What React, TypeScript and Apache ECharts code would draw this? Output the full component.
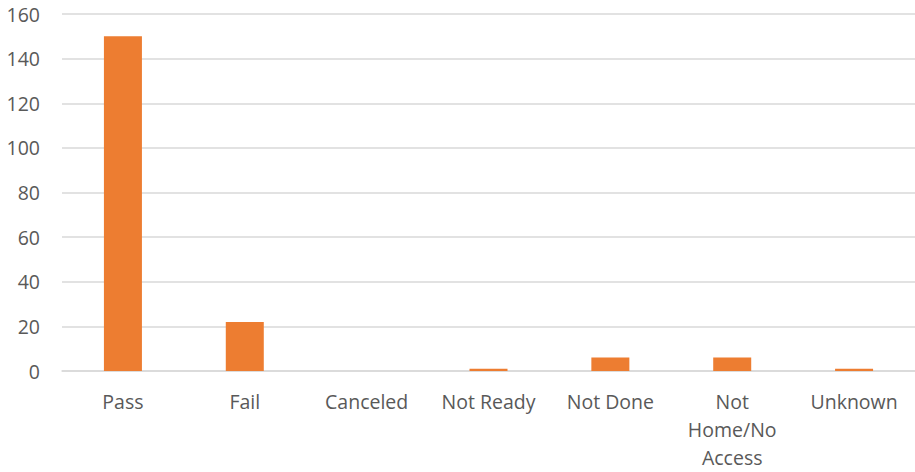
import React, { useEffect, useRef } from "react";
import * as echarts from "echarts";

const categories = ["Pass", "Fail", "Canceled", "Not Ready", "Not Done", "Not Home/No Access", "Unknown"];
const values = [150, 22, 0, 1, 6, 6, 1];
const yTicks = { min: 0, max: 160, interval: 20 };

export default function App() {
  const ref = useRef<HTMLDivElement>(null);
  useEffect(() => {
    if (!ref.current) return;
    const chart = echarts.init(ref.current, null, { renderer: "svg" });
    chart.setOption({
      animation: false,
      grid: { left: 62, right: 0, top: 14, bottom: 101, containLabel: false, outerBoundsMode: "none" },
      xAxis: {
        type: "category",
        data: categories,
        axisLine: { show: true, lineStyle: { color: "#d9d9d9", width: 1.5 } },
        axisTick: { show: false },
        axisLabel: {
          interval: 0,
          color: "#595959",
          fontFamily: "Open Sans",
          fontSize: 19.5,
          lineHeight: 28,
          margin: 16,
          formatter: (v: string) => (v === "Not Home/No Access" ? "Not\nHome/No\nAccess" : v),
        },
      },
      yAxis: {
        type: "value",
        min: yTicks.min,
        max: yTicks.max,
        interval: yTicks.interval,
        axisLine: { show: false },
        axisTick: { show: false },
        axisLabel: { color: "#595959", fontFamily: "Open Sans", fontSize: 19.5, margin: 22 },
        splitLine: { lineStyle: { color: "#d9d9d9", width: 1.5 } },
      },
      series: [
        {
          type: "bar",
          data: values,
          barWidth: 38,
          itemStyle: { color: "#ED7D31" },
        },
      ],
    });
    return () => chart.dispose();
  }, []);
  return <div ref={ref} style={{ width: 915, height: 472, position: "absolute", left: 0, top: 0 }} />;
}
